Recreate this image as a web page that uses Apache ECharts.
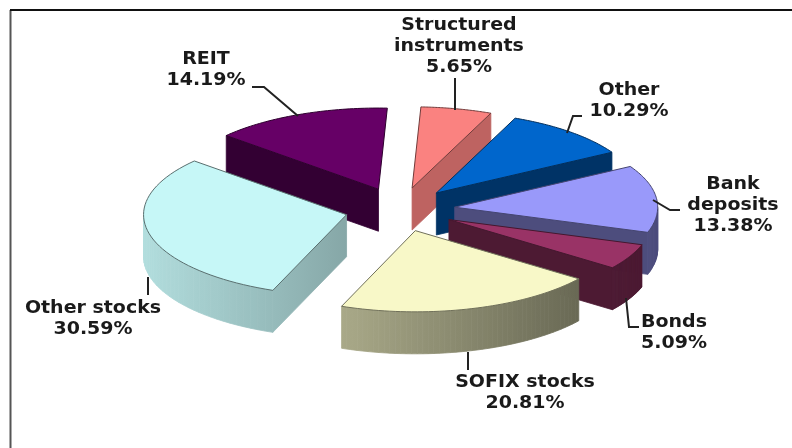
<!DOCTYPE html>
<html><head><meta charset="utf-8">
<style>html,body{margin:0;padding:0;background:#fff}#c{width:792px;height:448px}</style>
<script src="https://cdn.jsdelivr.net/npm/echarts@6/dist/echarts.min.js"></script>
</head><body><div id="c"></div>
<script>
const categories = ['Structured\ninstruments','Other','Bank\ndeposits','Bonds','SOFIX stocks','Other stocks','REIT'];
const shares = [5.65,10.29,13.38,5.09,20.81,30.59,14.19];
const topColors = ['#FA8280','#0066CC','#9999FA','#993366','#F8F8C8','#C6F7F7','#660066'];
const sideFactors = [0.76,0.5,0.5,0.5,null,null,0.5];
const labelAnchors = [[459,46],[629,101],[733,205],[674,333],[525,393],[93,319],[206,70]];
const leaders = [
  [[455,78],[455,110]],
  [[582,116],[573,116],[567,133]],
  [[680,210],[670,210],[653,200]],
  [[639,327],[629,327],[626,298]],
  [[468,370],[468,352]],
  [[148,295],[148,277]],
  [[252,87],[264,87],[298,116]]
];
const pie = {cx:400, cy:209.5, R:203, k:0.4, depth:42, explode:55, startDeg:2.5};

const rad = d => d*Math.PI/180;
function shade(hex,f){
  const n=parseInt(hex.slice(1),16);
  const ch=[n>>16&255,n>>8&255,n&255].map(v=>Math.round(v*f));
  return 'rgb('+ch.join(',')+')';
}
let acc = pie.startDeg;
const total = shares.reduce((a,b)=>a+b,0);
const slices = shares.map((v,i)=>{
  const a0=acc, a1=acc+v/total*360; acc=a1;
  return {i,v,a0,a1,mid:(a0+a1)/2};
});
function project(s,rr,deg){
  const ex=pie.explode*Math.sin(rad(s.mid)), ey=-pie.explode*Math.cos(rad(s.mid));
  const x=ex+rr*Math.sin(rad(deg)), y=ey-rr*Math.cos(rad(deg));
  return [pie.cx+x, pie.cy+y*pie.k];
}
const order = slices.slice().sort((p,q)=>(-Math.cos(rad(p.mid)))-(-Math.cos(rad(q.mid))));

function wallFill(color,p,q){
  const base=x=>0.9-0.5*Math.max(0,Math.min(1,(x-140)/(600-140)));
  return {type:'linear',x:p[0],y:0,x2:q[0],y2:0,global:true,
    colorStops:[{offset:0,color:shade(color,base(p[0]))},{offset:1,color:shade(color,base(q[0]))}]};
}
function sliceItem(params,api){
  const s=order[api.value(0)];
  const col=topColors[s.i];
  const apex=project(s,0,s.mid);
  const arc=[];
  const n=48;
  for(let j=0;j<=n;j++) arc.push(project(s,pie.R,s.a0+(s.a1-s.a0)*j/n));
  const ring=[apex].concat(arc);
  const kids=[];
  const d=pie.depth;
  const line=shade(col,0.45);
  const f=sideFactors[s.i];
  const flat=f==null?null:shade(col,f);
  for(let j=0;j<ring.length;j++){
    const p=ring[j], q=ring[(j+1)%ring.length];
    const dx=q[0]-p[0];
    const closing=j===ring.length-1;
    if(dx<-0.01 && !(closing && Math.abs(dx)<12)){
      const fill=flat||wallFill(col,q,p);
      kids.push({type:'polygon',shape:{points:[p,q,[q[0],q[1]+d],[p[0],p[1]+d]]},
        style:{fill:fill,stroke:fill,lineWidth:0.8}});
    }
  }
  kids.push({type:'polygon',shape:{points:ring},style:{fill:col,stroke:line,lineWidth:1}});
  return {type:'group',children:kids};
}
function leaderItem(params,api){
  const pts=leaders[api.value(0)];
  return {type:'polyline',shape:{points:pts},style:{fill:null,stroke:'#222',lineWidth:2}};
}
function labelItem(params,api){
  const i=api.value(0);
  return {type:'text',x:labelAnchors[i][0],y:labelAnchors[i][1],scaleX:1.085,style:{
    x:0,y:0,
    text:categories[i]+'\n'+shares[i].toFixed(2)+'%',
    align:'center',verticalAlign:'middle',
    font:'bold 17.5px "DejaVu Sans"',lineHeight:21,fill:'#1a1a1a'}};
}
const chart=echarts.init(document.getElementById('c'),null,{renderer:'canvas'});
chart.setOption({
  animation:false,
  backgroundColor:'#fff',
  graphic:[
    {type:'polyline',silent:true,shape:{points:[[10.5,448],[10.5,10]]},style:{fill:null,stroke:'#555',lineWidth:2}},
    {type:'polyline',silent:true,shape:{points:[[10,10],[792,10]]},style:{fill:null,stroke:'#111',lineWidth:2}}
  ],
  series:[
   {type:'custom',coordinateSystem:'none',silent:true,z:2,data:order.map((_,i)=>[i]),renderItem:sliceItem},
   {type:'custom',coordinateSystem:'none',silent:true,z:3,data:leaders.map((_,i)=>[i]),renderItem:leaderItem},
   {type:'custom',coordinateSystem:'none',silent:true,z:4,data:categories.map((_,i)=>[i]),renderItem:labelItem}
  ]
});
</script></body></html>
